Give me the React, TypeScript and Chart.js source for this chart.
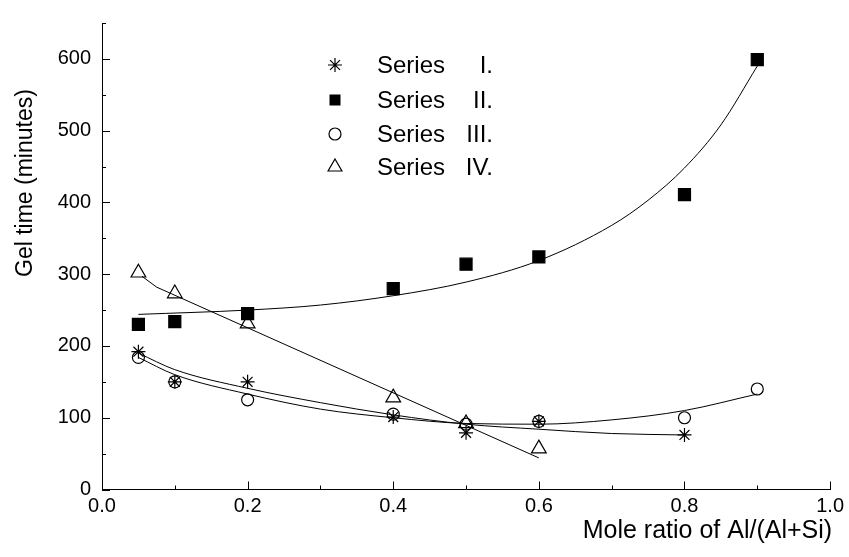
import React, { useEffect, useRef } from "react";
import { Chart, registerables } from "chart.js";

Chart.register(...registerables);

// ---- data ----
const xI = [0.05, 0.1, 0.2, 0.4, 0.5, 0.6, 0.8];
const yI = [192, 150, 150, 101, 79, 95, 76];
const xII = [0.05, 0.1, 0.2, 0.4, 0.5, 0.6, 0.8, 0.9];
const yII = [230, 234, 245, 280, 314, 324, 411, 599];
const xIII = [0.05, 0.1, 0.2, 0.4, 0.5, 0.6, 0.8, 0.9];
const yIII = [184, 150, 125, 105, 91, 95, 100, 140];
const xIV = [0.05, 0.1, 0.2, 0.4, 0.5, 0.6];
const yIV = [302, 273, 231, 128, 92, 57];

// fitted curves
const fitXI = [0.05, 0.1, 0.2, 0.3, 0.4, 0.5, 0.6, 0.7, 0.8];
const fitYI = [190, 167, 141, 121, 104, 91, 84, 78, 76];
const fitXII = [0.05, 0.2, 0.3, 0.4, 0.5, 0.6, 0.7, 0.75, 0.8, 0.85, 0.9];
const fitYII = [244, 250, 257, 270, 289, 319, 368, 403, 448, 508, 590];
const fitXIII = [0.05, 0.1, 0.2, 0.3, 0.4, 0.5, 0.6, 0.7, 0.8, 0.9];
const fitYIII = [184, 160, 133, 112, 100, 92, 91, 97, 110, 133];
const fitXIV = [0.055, 0.075, 0.6];
const fitYIV = [297, 282, 44];

const seriesWord = "Series";
const seriesNumerals = ["I.", "II.", "III.", "IV."];
const markerStyles = ["star", "rect", "circle", "triangle"];

const xTicks = [0, 0.2, 0.4, 0.6, 0.8, 1.0];
const yTicks = [0, 100, 200, 300, 400, 500, 600];
const xTitle = "Mole ratio of Al/(Al+Si)";
const yTitle = "Gel time (minutes)";

const FONT = '"Liberation Sans", Arial, sans-serif';

const pts = (xs: number[], ys: number[]) => xs.map((x, i) => ({ x, y: ys[i] }));

function drawMarker(ctx: CanvasRenderingContext2D, style: string, x: number, y: number) {
  ctx.save();
  ctx.strokeStyle = "#000";
  ctx.fillStyle = "#000";
  ctx.lineWidth = 1.2;
  ctx.beginPath();
  if (style === "star") {
    const r = 7;
    for (let k = 0; k < 4; k++) {
      const a = (k * Math.PI) / 4;
      ctx.moveTo(x - Math.cos(a) * r, y - Math.sin(a) * r);
      ctx.lineTo(x + Math.cos(a) * r, y + Math.sin(a) * r);
    }
    ctx.stroke();
  } else if (style === "rect") {
    ctx.fillRect(x - 5.5, y - 5.5, 11, 11);
  } else if (style === "circle") {
    ctx.arc(x, y, 6, 0, Math.PI * 2);
    ctx.stroke();
  } else {
    const r = 8;
    ctx.moveTo(x, y - r);
    ctx.lineTo(x + r * 0.866, y + r * 0.5);
    ctx.lineTo(x - r * 0.866, y + r * 0.5);
    ctx.closePath();
    ctx.stroke();
  }
  ctx.restore();
}

const decorPlugin = {
  id: "decor",
  afterDraw(chart: any) {
    const ctx: CanvasRenderingContext2D = chart.ctx;
    const xs = chart.scales.x;
    const ys = chart.scales.y;
    ctx.save();
    ctx.strokeStyle = "#000";
    ctx.lineWidth = 1;
    // inward ticks, y axis
    for (let v = 0; v <= 650 + 1e-9; v += 50) {
      const py = Math.round(ys.getPixelForValue(v)) + 0.5;
      const len = v % 100 === 0 ? 8 : 4;
      ctx.beginPath();
      ctx.moveTo(xs.left, py);
      ctx.lineTo(xs.left + len, py);
      ctx.stroke();
    }
    // inward ticks, x axis
    for (let k = 0; k <= 10; k++) {
      const v = k / 10;
      const px = Math.round(xs.getPixelForValue(v)) + 0.5;
      const len = k % 2 === 0 ? 8 : 4;
      ctx.beginPath();
      ctx.moveTo(px, ys.bottom);
      ctx.lineTo(px, ys.bottom - len);
      ctx.stroke();
    }
    // axis titles
    ctx.fillStyle = "#000";
    ctx.font = `25px ${FONT}`;
    ctx.textAlign = "right";
    ctx.textBaseline = "alphabetic";
    ctx.fillText(xTitle, xs.right + 2, 538);
    ctx.save();
    ctx.font = `23px ${FONT}`;
    ctx.translate(32, 277);
    ctx.rotate(-Math.PI / 2);
    ctx.textAlign = "left";
    ctx.fillText(yTitle, 0, 0);
    ctx.restore();
    // legend
    const rowsY = [65, 100, 134, 167];
    ctx.font = `24px ${FONT}`;
    ctx.textBaseline = "middle";
    seriesNumerals.forEach((num, i) => {
      drawMarker(ctx, markerStyles[i], 335, rowsY[i]);
      ctx.textAlign = "left";
      ctx.fillText(seriesWord, 377, rowsY[i] + 1);
      ctx.textAlign = "right";
      ctx.fillText(num, 493, rowsY[i] + 1);
    });
    ctx.restore();
  },
};

export default function App() {
  const ref = useRef<HTMLCanvasElement | null>(null);
  useEffect(() => {
    if (!ref.current) return;
    const markerBase = {
      showLine: false,
      borderColor: "#000",
      borderWidth: 1.2,
      pointBorderColor: "#000",
      pointBorderWidth: 1.2,
    };
    const fitBase = {
      showLine: true,
      borderColor: "#000",
      borderWidth: 1,
      pointRadius: 0,
      fill: false,
      cubicInterpolationMode: "monotone" as const,
    };
    const chart = new Chart(ref.current, {
      type: "scatter",
      data: {
        datasets: [
          { ...fitBase, label: "fit I", data: pts(fitXI, fitYI) },
          { ...fitBase, label: "fit II", data: pts(fitXII, fitYII) },
          { ...fitBase, label: "fit III", data: pts(fitXIII, fitYIII) },
          { ...fitBase, label: "fit IV", data: pts(fitXIV, fitYIV), tension: 0, cubicInterpolationMode: "default" as const },
          { ...markerBase, label: "Series I.", data: pts(xI, yI), pointStyle: "star", pointRadius: 7, pointBackgroundColor: "rgba(0,0,0,0)" },
          { ...markerBase, label: "Series II.", data: pts(xII, yII), pointStyle: "rect", pointRadius: 8.5, pointBackgroundColor: "#000" },
          { ...markerBase, label: "Series III.", data: pts(xIII, yIII), pointStyle: "circle", pointRadius: 6, pointBackgroundColor: "rgba(0,0,0,0)" },
          { ...markerBase, label: "Series IV.", data: pts(xIV, yIV), pointStyle: "triangle", pointRadius: 8.5, pointBackgroundColor: "rgba(0,0,0,0)" },
        ],
      },
      options: {
        responsive: false,
        animation: false,
        events: [],
        layout: { padding: { left: 0, top: 16.6, right: 18, bottom: 0 } },
        plugins: { legend: { display: false }, tooltip: { enabled: false } },
        scales: {
          x: {
            type: "linear",
            min: 0,
            max: 1,
            afterBuildTicks: (s: any) => {
              s.ticks = xTicks.map((v) => ({ value: v }));
            },
            afterFit: (s: any) => {
              s.height = 67.5;
            },
            ticks: {
              color: "#000",
              font: { size: 20, family: FONT },
              padding: 5,
              maxRotation: 0,
              callback: (v: any) => Number(v).toFixed(1),
            },
            grid: { display: true, drawOnChartArea: false, drawTicks: false },
            border: { display: true, color: "#000", width: 1 },
          },
          y: {
            type: "linear",
            min: 0,
            max: 650,
            afterBuildTicks: (s: any) => {
              s.ticks = yTicks.map((v) => ({ value: v }));
            },
            afterFit: (s: any) => {
              s.width = 102;
            },
            ticks: {
              color: "#000",
              font: { size: 20, family: FONT },
              padding: 11,
              callback: (v: any) => String(v),
            },
            grid: { display: true, drawOnChartArea: false, drawTicks: false },
            border: { display: true, color: "#000", width: 1 },
          },
        },
      },
      plugins: [decorPlugin],
    });
    return () => chart.destroy();
  }, []);
  return (
    <div style={{ position: "absolute", left: 0, top: 0, width: 849, height: 557, background: "#fff" }}>
      <canvas ref={ref} width={849} height={557} style={{ display: "block" }} />
    </div>
  );
}
